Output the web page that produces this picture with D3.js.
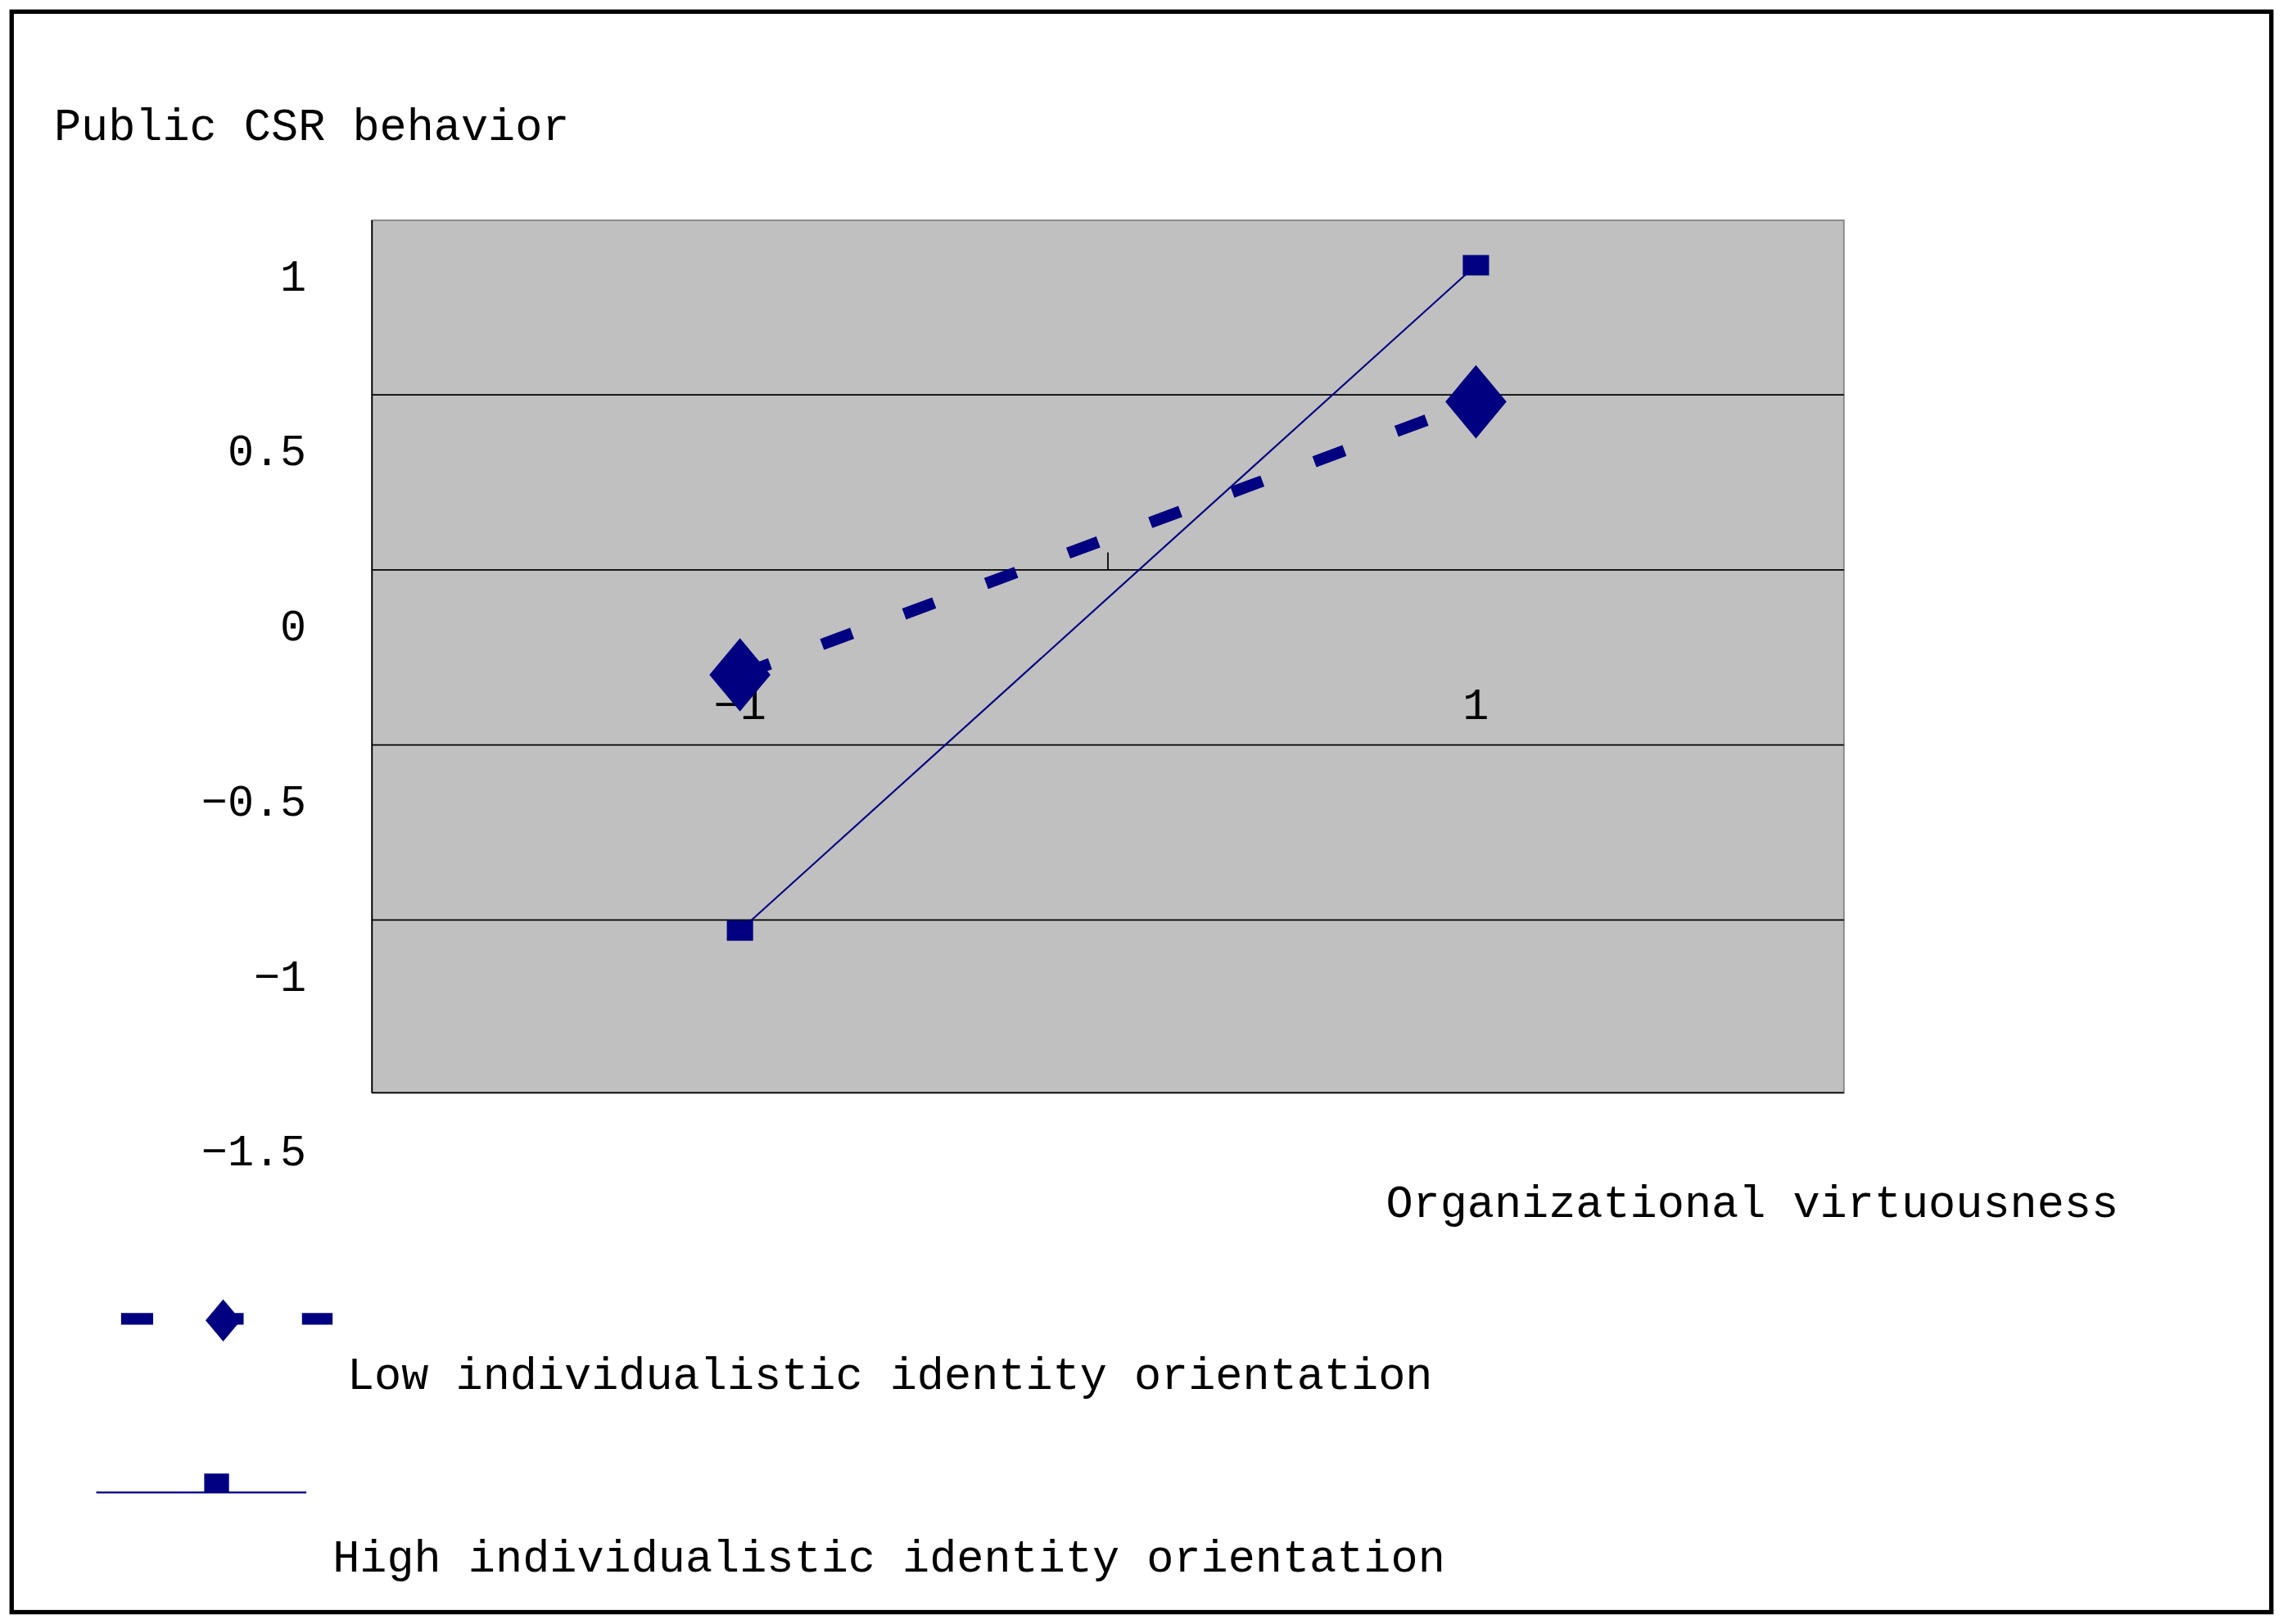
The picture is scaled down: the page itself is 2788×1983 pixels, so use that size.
<!DOCTYPE html><html><head><meta charset="utf-8">
<script src="https://cdn.jsdelivr.net/npm/d3@7/dist/d3.min.js"></script>
<style>body{margin:0;background:#fff}</style></head><body>
<svg id="c" width="2788" height="1983"></svg>
<script>
const categories=[-1,1];
const lowSeries=[-0.14,0.64];
const highSeries=[-0.87,1.03];
const yTicks=[1,0.5,0,-0.5,-1,-1.5];
const yTickLabels=["1","0.5","0","\u22120.5","\u22121","\u22121.5"];
const gridValues=[0.66,0.16,-0.34,-0.84];
const xTickLabels=["\u22121","1"];
const S=2788/1565;
const svg=d3.select("#c");
const g=svg.append("g").attr("transform",`scale(${S})`);
const F="Liberation Mono, DejaVu Sans Mono, monospace";
g.append("rect").attr("x",8).attr("y",8).attr("width",1549).attr("height",1097).attr("fill","#fff").attr("stroke","#000").attr("stroke-width",3);
const x=d3.scaleLinear().domain([-2,2]).range([255,1264]);
const y=d3.scaleLinear().domain([0,1]).range([429,189]);
const plotTop=151,plotBot=749;
g.append("rect").attr("x",255).attr("y",plotTop).attr("width",1009).attr("height",plotBot-plotTop).attr("fill","#c0c0c0").attr("stroke","#808080");
g.selectAll(".gl").data(gridValues).enter().append("line").attr("x1",255).attr("x2",1264).attr("y1",d=>y(d)).attr("y2",d=>y(d)).attr("stroke","#000").attr("stroke-width",1);
g.append("line").attr("x1",255).attr("x2",255).attr("y1",plotTop).attr("y2",plotBot).attr("stroke","#000");
g.append("line").attr("x1",255).attr("x2",1264).attr("y1",plotBot).attr("y2",plotBot).attr("stroke","#000");
g.append("line").attr("x1",x(0)).attr("x2",x(0)).attr("y1",y(0.16)-12).attr("y2",y(0.16)).attr("stroke","#000");
g.selectAll(".yt").data(yTicks).enter().append("text").attr("x",210).attr("y",d=>y(d)+10).attr("text-anchor","end").attr("font-family",F).attr("font-size",30).text((d,i)=>yTickLabels[i]);
g.selectAll(".xt").data(categories).enter().append("text").attr("x",d=>x(d)).attr("y",493).attr("text-anchor","middle").attr("font-family",F).attr("font-size",30).text((d,i)=>xTickLabels[i]);
g.append("text").attr("x",37).attr("y",96).attr("font-family",F).attr("font-size",31).text("Public CSR behavior");
g.append("text").attr("x",950).attr("y",834).attr("font-family",F).attr("font-size",31).text("Organizational virtuousness");
const col="#000080";
const line=d3.line().x((d,i)=>x(categories[i])).y(d=>y(d));
g.append("path").attr("d",line(highSeries)).attr("fill","none").attr("stroke",col).attr("stroke-width",1.2);
g.append("path").attr("d",line(lowSeries)).attr("fill","none").attr("stroke",col).attr("stroke-width",8).attr("stroke-dasharray","22,38");
g.selectAll(".sq").data(highSeries).enter().append("rect").attr("x",(d,i)=>x(categories[i])-9).attr("y",d=>y(d)-7).attr("width",18).attr("height",14).attr("fill",col);
const dia=d3.symbol().type(d3.symbolDiamond).size(900);
g.selectAll(".dm").data(lowSeries).enter().append("path").attr("d",dia).attr("transform",(d,i)=>`translate(${x(categories[i])},${y(d)}) scale(1.3,0.9)`).attr("fill",col);
g.append("line").attr("x1",83).attr("x2",228).attr("y1",904).attr("y2",904).attr("stroke",col).attr("stroke-width",8).attr("stroke-dasharray","22,40");
g.append("path").attr("d",d3.symbol().type(d3.symbolDiamond).size(300)).attr("transform","translate(153,905) scale(1.3,0.9)").attr("fill",col);
g.append("text").attr("x",238).attr("y",952).attr("font-family",F).attr("font-size",31).text("Low individualistic identity orientation");
g.append("line").attr("x1",66).attr("x2",210).attr("y1",1023).attr("y2",1023).attr("stroke",col).attr("stroke-width",1.2);
g.append("rect").attr("x",140).attr("y",1010).attr("width",17).attr("height",13).attr("fill",col);
g.append("text").attr("x",228).attr("y",1077).attr("font-family",F).attr("font-size",31).text("High individualistic identity orientation");
</script></body></html>
